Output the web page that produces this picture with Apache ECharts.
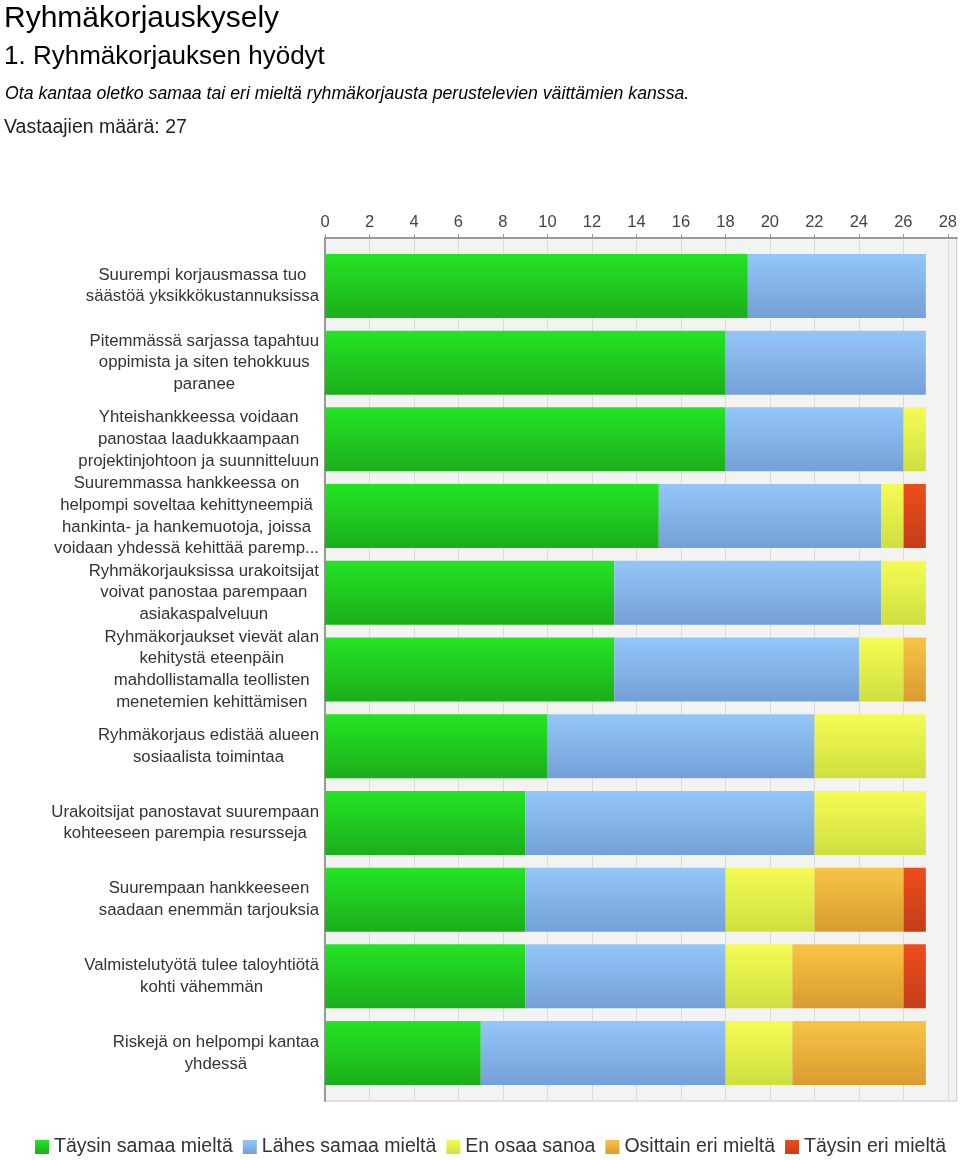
<!DOCTYPE html>
<html>
<head>
<meta charset="utf-8">
<script src="https://cdn.jsdelivr.net/npm/echarts@6/dist/echarts.min.js"></script>
<style>
html,body{margin:0;padding:0;background:#fff;}
#chart{width:960px;height:1160px;}
</style>
</head>
<body>
<div id="chart"></div>
<script>
var categories = [
  "Suurempi korjausmassa tuo\nsäästöä yksikkökustannuksissa",
  "Pitemmässä sarjassa tapahtuu\noppimista ja siten tehokkuus\nparanee",
  "Yhteishankkeessa voidaan\npanostaa laadukkaampaan\nprojektinjohtoon ja suunnitteluun",
  "Suuremmassa hankkeessa on\nhelpompi soveltaa kehittyneempiä\nhankinta- ja hankemuotoja, joissa\nvoidaan yhdessä kehittää paremp...",
  "Ryhmäkorjauksissa urakoitsijat\nvoivat panostaa parempaan\nasiakaspalveluun",
  "Ryhmäkorjaukset vievät alan\nkehitystä eteenpäin\nmahdollistamalla teollisten\nmenetemien kehittämisen",
  "Ryhmäkorjaus edistää alueen\nsosiaalista toimintaa",
  "Urakoitsijat panostavat suurempaan\nkohteeseen parempia resursseja",
  "Suurempaan hankkeeseen\nsaadaan enemmän tarjouksia",
  "Valmistelutyötä tulee taloyhtiötä\nkohti vähemmän",
  "Riskejä on helpompi kantaa\nyhdessä"
];
var seriesNames = ["Täysin samaa mieltä", "Lähes samaa mieltä", "En osaa sanoa", "Osittain eri mieltä", "Täysin eri mieltä"];
var taysinSamaa  = [19, 18, 18, 15, 13, 13, 10, 9, 9, 9, 7];
var lahesSamaa   = [8, 9, 8, 10, 12, 11, 12, 13, 9, 9, 11];
var enOsaa       = [0, 0, 1, 1, 2, 2, 5, 5, 4, 3, 3];
var osittainEri  = [0, 0, 0, 0, 0, 1, 0, 0, 4, 5, 6];
var taysinEri    = [0, 0, 0, 1, 0, 0, 0, 0, 1, 1, 0];
var xTicks = [0, 2, 4, 6, 8, 10, 12, 14, 16, 18, 20, 22, 24, 26, 28];
var X_MAX = 28.4;

var FONT = "'Liberation Sans', Arial, Helvetica, sans-serif";
function grad(top, bottom) {
  return new echarts.graphic.LinearGradient(0, 0, 0, 1, [
    {offset: 0, color: top}, {offset: 1, color: bottom}
  ]);
}
var colors = [
  grad('#24e424', '#1cae1c'),
  grad('#94c6fa', '#74a0d6'),
  grad('#f4fc54', '#cfdf40'),
  grad('#f8c444', '#d89c30'),
  grad('#ee4c1c', '#c43e1a')
];
var dataSets = [taysinSamaa, lahesSamaa, enOsaa, osittainEri, taysinEri];

var chart = echarts.init(document.getElementById('chart'), null, {renderer: 'canvas'});
var series = seriesNames.map(function (n, i) {
  return {
    name: n,
    type: 'bar',
    stack: 'total',
    barWidth: 64,
    xAxisIndex: 1,
    yAxisIndex: 1,
    itemStyle: {color: colors[i]},
    emphasis: {disabled: true},
    data: dataSets[i]
  };
});

chart.setOption({
  animation: false,
  backgroundColor: '#ffffff',
  graphic: [
    {type: 'text', left: 4, top: 4, style: {text: 'Ryhmäkorjauskysely', font: '30px ' + FONT, fill: '#000'}},
    {type: 'text', left: 4, top: 44, style: {text: '1. Ryhmäkorjauksen hyödyt', font: '26px ' + FONT, fill: '#000'}},
    {type: 'text', left: 5, top: 85, style: {text: 'Ota kantaa oletko samaa tai eri mieltä ryhmäkorjausta perustelevien väittämien kanssa.', font: 'italic 17.7px ' + FONT, fill: '#000'}},
    {type: 'text', left: 4, top: 118, style: {text: 'Vastaajien määrä: 27', font: '19.5px ' + FONT, fill: '#222'}}
  ],
  legend: {
    top: 1137,
    left: 35,
    icon: 'rect',
    itemWidth: 14,
    itemHeight: 14,
    itemGap: 10,
    padding: 0,
    textStyle: {fontSize: 19.5, fontFamily: FONT, color: '#333'},
    data: seriesNames
  },
  grid: [
    {
      left: 325, right: 3, top: 238, bottom: 59,
      show: true, backgroundColor: '#f3f4f1', borderColor: '#c8c8c8', borderWidth: 1
    },
    {
      left: 325, right: 3, top: 247.6, bottom: 68.6
    }
  ],
  xAxis: [
    {
      gridIndex: 0,
      type: 'value',
      position: 'top',
      min: 0, max: X_MAX, interval: 2,
      axisLine: {show: true, lineStyle: {color: '#999', width: 2}},
      axisTick: {show: true, inside: false, length: 4, lineStyle: {color: '#999'}, customValues: xTicks},
      splitLine: {show: true, lineStyle: {color: '#dcdcdc', width: 1}},
      axisLabel: {
        fontSize: 16.5, fontFamily: FONT, color: '#444', margin: 7,
        customValues: xTicks,
        formatter: function (v) { return String(v); }
      }
    },
    {
      gridIndex: 1,
      type: 'value',
      min: 0, max: X_MAX,
      show: false
    }
  ],
  yAxis: [
    {
      gridIndex: 0,
      type: 'category',
      data: categories,
      axisLine: {show: true, lineStyle: {color: '#999', width: 2}},
      axisTick: {show: false},
      axisLabel: {show: false},
      splitLine: {show: false}
    },
    {
      gridIndex: 1,
      type: 'category',
      inverse: true,
      data: categories,
      axisLine: {show: false},
      axisTick: {show: false},
      splitLine: {show: false},
      axisLabel: {
        margin: 6,
        align: 'right',
        formatter: function (v) {
          return v.split('\n').map(function (s) { return '{a|' + s + '}'; }).join('\n');
        },
        rich: {
          a: {fontSize: 16.8, fontFamily: FONT, color: '#333', lineHeight: 21.7, align: 'center'}
        }
      }
    }
  ],
  series: series
});
</script>
</body>
</html>
